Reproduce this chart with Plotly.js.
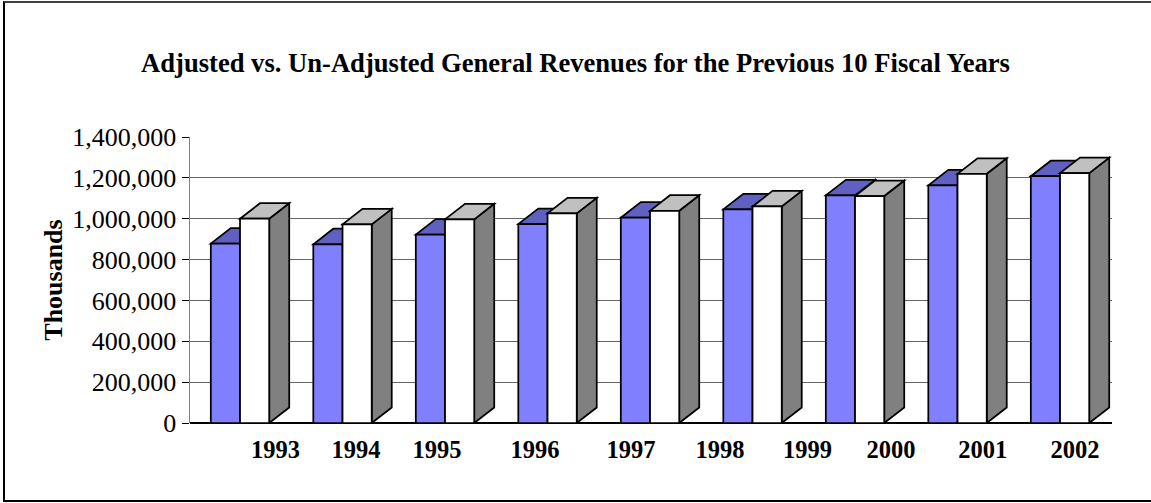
<!DOCTYPE html>
<html>
<head>
<meta charset="utf-8">
<script src="https://cdn.plot.ly/plotly-3.0.1.min.js"></script>
<style>
  html, body { margin: 0; padding: 0; background: #fff; }
  #wrap { position: relative; width: 1151px; height: 503px; }
  #chart { position: absolute; left: 0; top: 0; width: 1151px; height: 503px; }
  #frame { position: absolute; left: 3px; top: 1px; width: 1148px; height: 501px;
           border-left: 2px solid #000; border-top: 2px solid #404040; border-bottom: 2px solid #000;
           box-sizing: border-box; pointer-events: none; }
</style>
</head>
<body>
<div id="wrap">
  <div id="chart"></div>
  <div id="frame"></div>
</div>
<script>
// ---- data ----
const yearLabels = ['1993', '1994', '1995', '1996', '1997', '1998', '1999', '2000', '2001', '2002'];
const adjusted   = [878000, 875000, 922000, 974000, 1005000, 1046000, 1114000, 1163000, 1208000];
const unadjusted = [1000000, 972000, 997000, 1026000, 1039000, 1060000, 1111000, 1220000, 1223000];
const seriesNames = ['Adjusted', 'Un-Adjusted'];

// ---- styling / layout constants ----
const groupIdx = adjusted.map((_, i) => i);
const labelPos = [0.346, 1.132, 1.922, 2.878, 3.815, 4.683, 5.537, 6.351, 7.245, 8.146];
const barW = 0.285;          // width of each bar's front face (x units)
const depthX = 0.195;        // 3D depth offset in x units
const depthY = 76000;        // 3D depth offset in y units
const outline = {color: '#000', width: 1.75};
const faceColors = {
  adjFront: '#8080FF', adjTop: '#6060C0', adjSide: '#40408F',
  unFront: '#FFFFFF', unTop: '#C0C0C0', unSide: '#808080'
};

function topPath(xl, xr, v) {
  return `M${xl},${v} L${xr},${v} L${xr + depthX},${v + depthY} L${xl + depthX},${v + depthY} Z`;
}
function sidePath(xr, v) {
  return `M${xr},0 L${xr},${v} L${xr + depthX},${v + depthY} L${xr + depthX},${depthY} Z`;
}

const shapes = [];
groupIdx.forEach((g, i) => {
  const a = adjusted[i], u = unadjusted[i];
  const aL = g - barW, aR = g;
  const uL = g, uR = g + barW;
  const common = {type: 'path', xref: 'x', yref: 'y', layer: 'between', line: outline};
  shapes.push(Object.assign({}, common, {path: sidePath(aR, a), fillcolor: faceColors.adjSide}));
  shapes.push(Object.assign({}, common, {path: topPath(aL, aR, a), fillcolor: faceColors.adjTop}));
  shapes.push(Object.assign({}, common, {path: sidePath(uR, u), fillcolor: faceColors.unSide}));
  shapes.push(Object.assign({}, common, {path: topPath(uL, uR, u), fillcolor: faceColors.unTop}));
});

const traces = [
  {
    type: 'bar', name: seriesNames[0], x: groupIdx, y: adjusted,
    width: barW, offset: -barW,
    marker: {color: faceColors.adjFront, line: outline},
    hovertemplate: '%{y:,d}<extra>' + seriesNames[0] + '</extra>'
  },
  {
    type: 'bar', name: seriesNames[1], x: groupIdx, y: unadjusted,
    width: barW, offset: 0,
    marker: {color: faceColors.unFront, line: outline},
    hovertemplate: '%{y:,d}<extra>' + seriesNames[1] + '</extra>'
  }
];

const serif = 'Liberation Serif, Times New Roman, serif';

const layout = {
  width: 1151, height: 503,
  paper_bgcolor: '#fff', plot_bgcolor: 'rgba(0,0,0,0)',
  margin: {l: 190, r: 39, t: 136.5, b: 80, pad: 0},
  showlegend: false,
  barmode: 'overlay',
  title: {
    text: 'Adjusted vs. Un-Adjusted General Revenues for the Previous 10 Fiscal Years',
    font: {family: serif, size: 26.6, color: '#000', weight: 'bold'},
    x: 0.5, xref: 'container', xanchor: 'center',
    y: 1 - 63 / 503, yref: 'container', yanchor: 'middle'
  },
  xaxis: {
    range: [-0.488, 8.507],
    tickmode: 'array', tickvals: labelPos, ticktext: yearLabels,
    ticks: '', showgrid: false, zeroline: false, showline: false,
    ticklabelstandoff: 9,
    tickfont: {family: serif, size: 24.5, color: '#000', weight: 'bold'},
    fixedrange: true
  },
  yaxis: {
    range: [0, 1400000],
    tickmode: 'linear', tick0: 0, dtick: 200000,
    tickformat: ',d',
    ticks: 'outside', ticklen: 7, tickcolor: '#000', tickwidth: 1,
    showline: true, linecolor: '#808080', linewidth: 1.5,
    showgrid: true, gridcolor: '#666666', gridwidth: 1,
    zeroline: true, zerolinecolor: '#000', zerolinewidth: 1.5,
    tickfont: {family: serif, size: 26, color: '#000'},
    title: {
      text: 'Thousands',
      font: {family: serif, size: 26, color: '#000', weight: 'bold'},
      standoff: 2
    },
    fixedrange: true
  },
  shapes: shapes
};

Plotly.newPlot('chart', traces, layout, {displayModeBar: false, staticPlot: true});
</script>
</body>
</html>
